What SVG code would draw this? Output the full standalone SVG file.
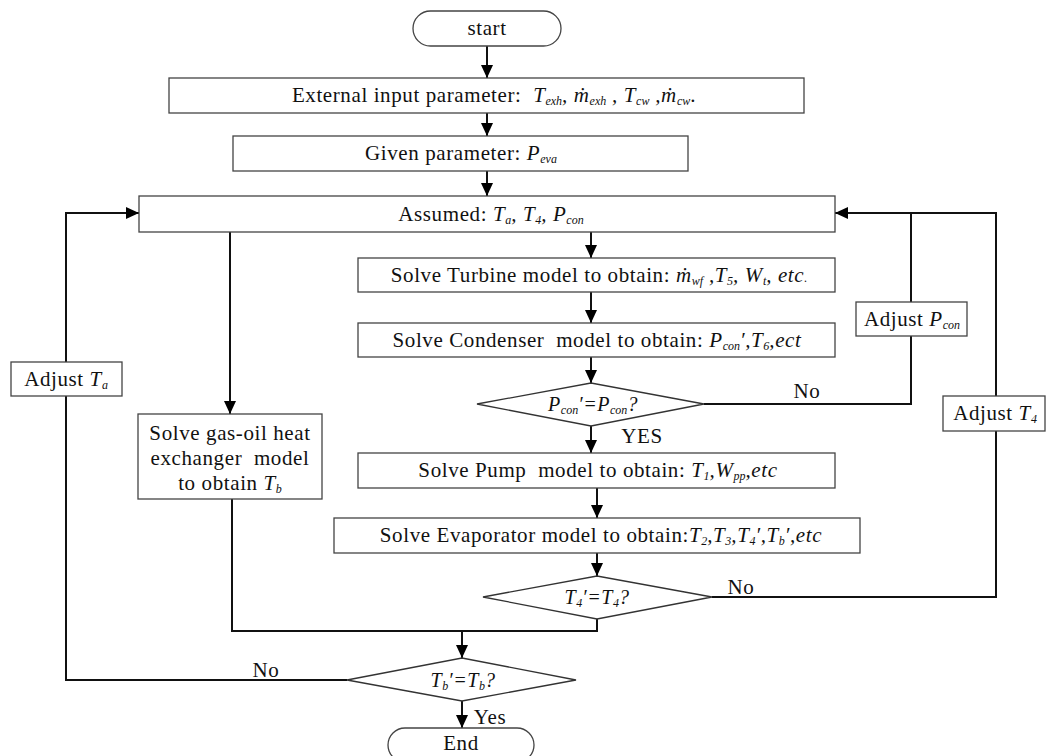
<svg xmlns="http://www.w3.org/2000/svg" width="1046" height="756" viewBox="0 0 1046 756">
<style>
  text { font-family: "Liberation Serif", "Times New Roman", serif; font-size: 21px; fill: #111; letter-spacing: 0.6px; text-anchor: middle; white-space: pre; }
  .box { fill: #fff; stroke: #444; stroke-width: 1.3; }
  .dia { fill: #fff; stroke: #333; stroke-width: 1.3; }
  .i { font-style: italic; }
  .s { font-style: italic; font-size: 12px; letter-spacing: 0; }
  .d { font-size: 20px; }
  .conn path { fill: none; stroke: #111; stroke-width: 2; }
</style>
<defs>
  <marker id="ah" markerWidth="13" markerHeight="12" refX="13" refY="6" orient="auto" markerUnits="userSpaceOnUse">
    <path d="M0,0 L13,6 L0,12 z" fill="#000"/>
  </marker>
</defs>
<rect width="1046" height="756" fill="#fff"/>

<g id="connectors" class="conn">
  <path d="M487,46 V78" marker-end="url(#ah)"/>
  <path d="M487,113 V136" marker-end="url(#ah)"/>
  <path d="M487,171 V196" marker-end="url(#ah)"/>
  <path d="M591,232 V258" marker-end="url(#ah)"/>
  <path d="M591,292 V323" marker-end="url(#ah)"/>
  <path d="M591,357 V383" marker-end="url(#ah)"/>
  <path d="M591,426 V453" marker-end="url(#ah)"/>
  <path d="M597,488 V518" marker-end="url(#ah)"/>
  <path d="M597,553 V576" marker-end="url(#ah)"/>
  <path d="M230,232 V414" marker-end="url(#ah)"/>
  <path d="M232,499 V631 H597 V619"/>
  <path d="M462,631 V658" marker-end="url(#ah)"/>
  <path d="M462,701 V728" marker-end="url(#ah)"/>
  <path d="M347,680 H66 V396"/>
  <path d="M66,362 V213 H139" marker-end="url(#ah)"/>
  <path d="M704,404 H911 V336"/>
  <path d="M911,302 V213"/>
  <path d="M712,597 H996 V431"/>
  <path d="M996,396 V213 H835" marker-end="url(#ah)"/>
</g>

<g id="start">
  <rect x="413" y="11" width="148" height="35" rx="17.5" class="box"/>
  <text x="487" y="35">start</text>
</g>

<g id="external">
  <rect x="169" y="78" width="635" height="35" class="box"/>
  <text x="494" y="102">External input parameter:  <tspan class="i">T</tspan><tspan class="s" dy="3">exh</tspan><tspan class="i" dy="-3">, ṁ</tspan><tspan class="s" dy="3">exh</tspan><tspan class="i" dy="-3"> , T</tspan><tspan class="s" dy="3">cw</tspan><tspan class="i" dy="-3"> ,ṁ</tspan><tspan class="s" dy="3">cw</tspan><tspan dy="-3">.</tspan></text>
</g>

<g id="given">
  <rect x="233" y="136" width="455" height="35" class="box"/>
  <text x="461" y="160">Given parameter: <tspan class="i">P</tspan><tspan class="s" dy="3">eva</tspan></text>
</g>

<g id="assumed">
  <rect x="139" y="196" width="696" height="36" class="box"/>
  <text x="491" y="221">Assumed: <tspan class="i">T</tspan><tspan class="s" dy="3">a</tspan><tspan class="i" dy="-3">, T</tspan><tspan class="s" dy="3">4</tspan><tspan class="i" dy="-3">, P</tspan><tspan class="s" dy="3">con</tspan></text>
</g>

<g id="turbine">
  <rect x="358" y="258" width="477" height="34" class="box"/>
  <text x="599" y="282">Solve Turbine model to obtain: <tspan class="i">ṁ</tspan><tspan class="s" dy="3">wf</tspan><tspan class="i" dy="-3"> ,T</tspan><tspan class="s" dy="3">5</tspan><tspan class="i" dy="-3">, W</tspan><tspan class="s" dy="3">t</tspan><tspan class="i" dy="-3">, etc</tspan><tspan class="s">.</tspan></text>
</g>

<g id="condenser">
  <rect x="358" y="323" width="477" height="34" class="box"/>
  <text x="597" y="347">Solve Condenser  model to obtain: <tspan class="i">P</tspan><tspan class="s" dy="3">con</tspan><tspan class="i" dy="-3">′,T</tspan><tspan class="s" dy="3">6</tspan><tspan class="i" dy="-3">,ect</tspan></text>
</g>

<g id="check-pcon">
  <polygon points="477,404 591,383 704,404 591,426" class="dia"/>
  <text x="593" y="411" class="d"><tspan class="i">P</tspan><tspan class="s" dy="3">con</tspan><tspan class="i" dy="-3">′=P</tspan><tspan class="s" dy="3">con</tspan><tspan class="i" dy="-3">?</tspan></text>
  <text x="807" y="398">No</text>
  <text x="642" y="443">YES</text>
</g>

<g id="pump">
  <rect x="358" y="453" width="477" height="35" class="box"/>
  <text x="598" y="477">Solve Pump  model to obtain: <tspan class="i">T</tspan><tspan class="s" dy="3">1</tspan><tspan class="i" dy="-3">,W</tspan><tspan class="s" dy="3">pp</tspan><tspan class="i" dy="-3">,etc</tspan></text>
</g>

<g id="evaporator">
  <rect x="334" y="518" width="526" height="35" class="box"/>
  <text x="601" y="542">Solve Evaporator model to obtain:<tspan class="i">T</tspan><tspan class="s" dy="3">2</tspan><tspan class="i" dy="-3">,T</tspan><tspan class="s" dy="3">3</tspan><tspan class="i" dy="-3">,T</tspan><tspan class="s" dy="3">4</tspan><tspan class="i" dy="-3">′,T</tspan><tspan class="s" dy="3">b</tspan><tspan class="i" dy="-3">′,etc</tspan></text>
</g>

<g id="check-t4">
  <polygon points="483,597 597,576 712,597 597,619" class="dia"/>
  <text x="597" y="604" class="d"><tspan class="i">T</tspan><tspan class="s" dy="3">4</tspan><tspan class="i" dy="-3">′=T</tspan><tspan class="s" dy="3">4</tspan><tspan class="i" dy="-3">?</tspan></text>
  <text x="741" y="594">No</text>
</g>

<g id="gas-oil">
  <rect x="138" y="414" width="184" height="85" class="box"/>
  <text x="230" y="440">Solve gas-oil heat</text>
  <text x="230" y="465">exchanger  model</text>
  <text x="230" y="490">to obtain <tspan class="i">T</tspan><tspan class="s" dy="3">b</tspan></text>
</g>

<g id="check-tb">
  <polygon points="347,680 462,658 576,680 462,701" class="dia"/>
  <text x="463" y="687" class="d"><tspan class="i">T</tspan><tspan class="s" dy="3">b</tspan><tspan class="i" dy="-3">′=T</tspan><tspan class="s" dy="3">b</tspan><tspan class="i" dy="-3">?</tspan></text>
  <text x="266" y="677">No</text>
  <text x="490" y="724">Yes</text>
</g>

<g id="end">
  <rect x="388" y="728" width="146" height="34" rx="17" class="box"/>
  <text x="461" y="750">End</text>
</g>

<g id="adjust-ta">
  <rect x="11" y="362" width="111" height="34" class="box"/>
  <text x="66" y="386">Adjust <tspan class="i">T</tspan><tspan class="s" dy="3">a</tspan></text>
</g>

<g id="adjust-pcon">
  <rect x="856" y="302" width="111" height="34" class="box"/>
  <text x="912" y="326">Adjust <tspan class="i">P</tspan><tspan class="s" dy="3">con</tspan></text>
</g>

<g id="adjust-t4">
  <rect x="943" y="396" width="102" height="35" class="box"/>
  <text x="995" y="420">Adjust <tspan class="i">T</tspan><tspan class="s" dy="3">4</tspan></text>
</g>
</svg>
